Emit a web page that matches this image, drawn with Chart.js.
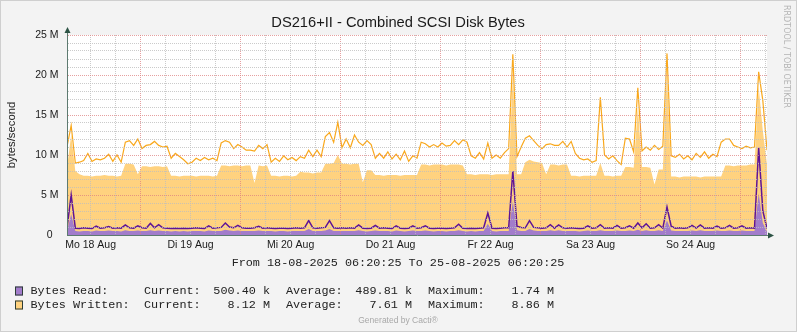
<!DOCTYPE html>
<html lang="en">
<head>
<meta charset="UTF-8" />
<title>DS216+II - Combined SCSI Disk Bytes</title>
<script src="https://cdn.jsdelivr.net/npm/chart.js"></script>
<style>
	html, body { margin: 0; padding: 0; background: #f3f3f3; }
	#chart { display: block; }
</style>
</head>
<body>
<canvas id="chart" width="797" height="332"></canvas>
<script>
// x axis is hours since 18-08-2025 06:20:25, one sample per hour
const dayLabels = ["Mo 18 Aug", "Di 19 Aug", "Mi 20 Aug", "Do 21 Aug", "Fr 22 Aug", "Sa 23 Aug", "So 24 Aug"];
const yLabels = ["0", "5 M", "10 M", "15 M", "20 M", "25 M"];

// values in M bytes/second
const writtenMax = [
	11.0, 13.7, 9.0, 9.1, 9.3, 10.2, 9.2, 9.5, 9.4, 9.6,
	10.1, 9.2, 10.0, 9.1, 11.6, 11.8, 11.2, 12.0, 10.8, 11.2,
	11.3, 11.7, 11.2, 11.0, 11.1, 9.6, 10.2, 9.8, 9.4, 8.9,
	9.1, 9.6, 9.3, 9.7, 9.4, 9.6, 9.3, 11.5, 11.8, 11.6,
	10.8, 11.3, 11.0, 10.6, 10.6, 10.5, 11.2, 10.8, 11.3, 9.1,
	9.6, 9.2, 9.9, 9.4, 9.7, 9.3, 9.8, 9.6, 10.6, 9.8,
	10.6, 9.8, 12.3, 12.8, 11.6, 14.1, 10.9, 12.0, 10.9, 12.5,
	11.6, 11.2, 11.8, 11.3, 9.6, 10.2, 9.6, 10.4, 9.5, 10.1,
	9.4, 10.5, 9.2, 9.9, 9.6, 11.6, 11.4, 11.0, 11.3, 11.0,
	11.5, 11.1, 11.2, 11.8, 11.3, 11.9, 11.6, 9.9, 9.6, 10.3,
	9.5, 11.5, 9.6, 10.0, 9.6, 10.3, 10.8, 22.6, 9.8, 11.0,
	12.1, 12.4, 11.8, 11.2, 10.8, 11.3, 11.4, 11.2, 11.2, 11.7,
	11.0, 11.7, 10.2, 9.6, 9.4, 9.5, 9.1, 9.3, 17.2, 10.0,
	9.5, 9.9, 9.3, 8.8, 12.1, 12.0, 10.4, 18.4, 10.5, 11.0,
	10.6, 11.2, 10.7, 11.1, 22.7, 9.9, 9.7, 10.1, 9.5, 9.9,
	9.4, 10.2, 9.7, 10.4, 9.6, 10.1, 9.8, 11.6, 12.0, 12.0,
	11.2, 11.0, 10.8, 11.1, 10.9, 11.0, 20.4, 16.8, 10.6
];
const writtenAvg = [
	8.4, 12.5, 8.0, 7.6, 7.4, 7.4, 7.3, 7.4, 7.4, 7.5,
	7.4, 7.4, 7.3, 7.4, 8.9, 8.9, 8.8, 7.6, 8.6, 8.6,
	8.5, 8.6, 8.6, 8.5, 8.6, 7.4, 7.4, 7.3, 7.4, 7.4,
	7.4, 7.3, 7.4, 7.4, 7.4, 7.3, 7.4, 8.7, 8.7, 8.6,
	8.7, 8.7, 8.6, 8.7, 8.7, 6.5, 8.7, 8.6, 8.7, 7.4,
	7.4, 7.3, 7.4, 7.4, 7.3, 7.4, 7.9, 7.8, 7.8, 7.7,
	7.8, 7.8, 8.9, 8.9, 9.0, 10.0, 8.9, 8.9, 8.8, 8.9,
	8.9, 6.6, 8.1, 8.1, 7.5, 7.5, 7.4, 7.5, 7.5, 7.5,
	7.4, 7.5, 7.5, 7.5, 7.5, 8.8, 8.8, 8.7, 8.8, 8.8,
	8.8, 8.7, 8.8, 8.8, 8.8, 8.7, 7.6, 7.6, 7.5, 7.6,
	7.6, 7.6, 7.5, 7.6, 7.6, 7.6, 7.6, 20.0, 7.6, 7.6,
	9.1, 9.4, 9.2, 9.1, 9.0, 7.6, 8.8, 8.8, 8.7, 8.8,
	8.8, 7.4, 7.4, 7.3, 7.4, 7.4, 7.4, 7.4, 9.0, 7.4,
	7.4, 7.3, 7.4, 7.4, 8.5, 8.5, 8.4, 16.0, 8.5, 8.5,
	8.4, 6.3, 8.2, 8.2, 20.5, 7.3, 7.3, 7.2, 7.3, 7.3,
	7.3, 7.3, 7.2, 7.3, 7.3, 7.3, 7.3, 7.3, 8.7, 8.7,
	8.6, 8.7, 8.7, 8.7, 8.8, 8.8, 18.5, 13.0, 8.8
];
const readMax = [
	0.85, 5.0, 0.85, 0.8, 0.9, 0.85, 0.8, 1.1, 0.85, 0.9,
	1.05, 0.85, 0.9, 0.85, 1.25, 0.9, 0.85, 1.15, 0.9, 0.85,
	1.45, 0.9, 1.3, 0.9, 0.85, 0.8, 0.85, 0.8, 0.85, 0.8,
	0.85, 0.9, 0.85, 0.8, 1.15, 0.85, 0.9, 0.95, 1.5, 1.0,
	0.9, 1.2, 0.9, 0.85, 0.85, 0.9, 1.1, 0.85, 0.9, 0.85,
	0.8, 0.85, 0.85, 0.8, 0.85, 0.9, 0.85, 0.9, 1.8, 0.9,
	0.85, 0.9, 0.95, 1.8, 0.9, 0.85, 0.9, 0.85, 0.9, 0.85,
	1.25, 0.85, 0.8, 0.85, 1.2, 0.85, 0.9, 0.85, 0.8, 1.15,
	0.85, 0.8, 0.85, 1.15, 0.85, 0.9, 1.15, 0.85, 0.8, 0.85,
	0.85, 0.8, 0.85, 0.9, 1.35, 0.85, 0.8, 0.85, 0.8, 0.85,
	0.9, 2.75, 0.85, 0.8, 0.85, 0.9, 0.9, 8.0, 1.1, 0.95,
	0.9, 1.8, 0.95, 0.9, 0.85, 0.9, 1.3, 0.85, 1.25, 0.9,
	0.85, 0.9, 0.85, 0.8, 0.85, 1.15, 0.85, 0.9, 1.3, 0.85,
	0.9, 0.85, 1.2, 0.85, 0.9, 1.15, 0.85, 1.5, 0.9, 1.4,
	0.85, 0.9, 1.3, 0.85, 3.5, 1.1, 0.85, 0.9, 0.85, 0.9,
	1.2, 0.85, 1.25, 0.85, 0.9, 0.85, 1.1, 0.85, 0.9, 1.2,
	0.85, 0.9, 1.15, 0.85, 0.9, 0.85, 10.9, 3.0, 0.8
];
const readAvg = [
	0.5, 2.6, 0.5, 0.45, 0.5, 0.5, 0.45, 0.55, 0.5, 0.5,
	0.55, 0.5, 0.5, 0.45, 0.6, 0.5, 0.5, 0.55, 0.5, 0.5,
	0.6, 0.5, 0.55, 0.5, 0.5, 0.45, 0.5, 0.45, 0.5, 0.45,
	0.5, 0.5, 0.5, 0.45, 0.55, 0.5, 0.5, 0.5, 0.65, 0.55,
	0.5, 0.55, 0.5, 0.5, 0.5, 0.5, 0.55, 0.5, 0.5, 0.5,
	0.45, 0.5, 0.5, 0.45, 0.5, 0.5, 0.5, 0.5, 0.75, 0.5,
	0.5, 0.5, 0.55, 0.75, 0.5, 0.5, 0.5, 0.5, 0.5, 0.5,
	0.6, 0.5, 0.45, 0.5, 0.55, 0.5, 0.5, 0.5, 0.45, 0.55,
	0.5, 0.45, 0.5, 0.55, 0.5, 0.5, 0.55, 0.5, 0.45, 0.5,
	0.5, 0.45, 0.5, 0.5, 0.6, 0.5, 0.45, 0.5, 0.45, 0.5,
	0.5, 1.4, 0.5, 0.45, 0.5, 0.5, 0.5, 4.2, 0.6, 0.5,
	0.5, 0.75, 0.55, 0.5, 0.5, 0.5, 0.6, 0.5, 0.6, 0.5,
	0.5, 0.5, 0.5, 0.45, 0.5, 0.55, 0.5, 0.5, 0.6, 0.5,
	0.5, 0.5, 0.55, 0.5, 0.5, 0.55, 0.5, 0.65, 0.5, 0.6,
	0.5, 0.5, 0.6, 0.5, 1.8, 0.55, 0.5, 0.5, 0.5, 0.5,
	0.55, 0.5, 0.6, 0.5, 0.5, 0.5, 0.55, 0.5, 0.5, 0.55,
	0.5, 0.5, 0.55, 0.5, 0.5, 0.5, 5.2, 1.5, 0.45
];

const legendRows = [
	{ name: "Bytes Read:", cur: "500.40 k", avg: "489.81 k", max: "1.74 M", color: "#a27ccb" },
	{ name: "Bytes Written:", cur: "8.12 M", avg: "7.61 M", max: "8.86 M", color: "#ffd27f" }
];

const firstNoon = 5 + 39 / 60 + 35 / 3600; // 12:00:00 on the 18th
const toPoints = (arr) => arr.map((v, i) => ({ x: i, y: v }));

const rrdFrame = {
	id: "rrdFrame",
	beforeDraw(chart) {
		const { ctx, chartArea: a, width, height } = chart;
		ctx.save();
		ctx.fillStyle = "#f3f3f3";
		ctx.fillRect(0, 0, width, height);
		ctx.strokeStyle = "#cfcfcf";
		ctx.lineWidth = 1;
		ctx.strokeRect(0.5, 0.5, width - 1, height - 1);
		ctx.fillStyle = "#ffffff";
		ctx.fillRect(a.left, a.top, a.right - a.left, a.bottom - a.top);
		ctx.restore();
	},
	afterDraw(chart) {
		const { ctx, chartArea: a } = chart;
		ctx.save();
		// axis arrows
		ctx.fillStyle = "#2e5446";
		ctx.strokeStyle = "#5d7a70";
		ctx.lineWidth = 1;
		ctx.beginPath();
		ctx.moveTo(a.left + 0.5, a.top);
		ctx.lineTo(a.left + 0.5, a.top - 3);
		ctx.moveTo(a.right, a.bottom + 0.5);
		ctx.lineTo(a.right + 2, a.bottom + 0.5);
		ctx.stroke();
		ctx.beginPath();
		ctx.moveTo(a.left + 0.5, a.top - 8);
		ctx.lineTo(a.left - 2.5, a.top - 2);
		ctx.lineTo(a.left + 3.5, a.top - 2);
		ctx.closePath();
		ctx.fill();
		ctx.beginPath();
		ctx.moveTo(a.right + 7, a.bottom + 0.5);
		ctx.lineTo(a.right + 1, a.bottom - 2.5);
		ctx.lineTo(a.right + 1, a.bottom + 3.5);
		ctx.closePath();
		ctx.fill();

		// title
		ctx.fillStyle = "#1a1a1a";
		ctx.font = '14.7px "Liberation Sans", Arial, sans-serif';
		ctx.textAlign = "center";
		ctx.textBaseline = "alphabetic";
		ctx.fillText("DS216+II - Combined SCSI Disk Bytes", 398, 27);

		// y axis title
		ctx.save();
		ctx.translate(15, 135);
		ctx.rotate(-Math.PI / 2);
		ctx.font = '11.3px "Liberation Sans", Arial, sans-serif';
		ctx.fillStyle = "#1a1a1a";
		ctx.fillText("bytes/second", 0, 0);
		ctx.restore();

		// watermark on the right
		ctx.save();
		ctx.translate(786, 5);
		ctx.rotate(Math.PI / 2);
		ctx.font = '8px "DejaVu Sans", sans-serif';
		ctx.fillStyle = "#b4b4b4";
		ctx.textAlign = "left";
		ctx.textBaseline = "middle";
		ctx.fillText("RRDTOOL / TOBI OETIKER", 0, 0);
		ctx.restore();

		// period and legend
		const mono = '11.8px "Liberation Mono", "DejaVu Sans Mono", monospace';
		ctx.font = mono;
		ctx.fillStyle = "#222";
		ctx.textBaseline = "middle";
		ctx.textAlign = "center";
		ctx.fillText("From 18-08-2025 06:20:25 To 25-08-2025 06:20:25", 398, 263);

		legendRows.forEach((row, i) => {
			const y = 291 + i * 14;
			ctx.fillStyle = row.color;
			ctx.fillRect(15, y - 4.5, 8, 9);
			ctx.strokeStyle = "#2d3d36";
			ctx.strokeRect(15.5, y - 4, 7, 8);
			ctx.fillStyle = "#222";
			ctx.textAlign = "left";
			ctx.fillText(row.name, 30.5, y);
			ctx.fillText("Current:", 144, y);
			ctx.fillText("Average:", 286, y);
			ctx.fillText("Maximum:", 428, y);
			ctx.textAlign = "right";
			ctx.fillText(row.cur, 270, y);
			ctx.fillText(row.avg, 412, y);
			ctx.fillText(row.max, 554, y);
		});

		ctx.font = '8.5px "Liberation Sans", Arial, sans-serif';
		ctx.fillStyle = "#a8a8a8";
		ctx.textAlign = "center";
		ctx.fillText("Generated by Cacti\u00ae", 398, 321);
		ctx.restore();
	}
};

const redGrid = "rgba(222, 128, 128, 0.75)";
const greyGrid = "rgba(190, 190, 190, 0.8)";

new Chart(document.getElementById("chart"), {
	type: "line",
	data: {
		datasets: [
			{
				label: "Bytes Read Maximum",
				data: toPoints(readMax),
				borderColor: "#5e1497",
				borderWidth: 1.5,
				pointRadius: 0,
				fill: false,
				order: 0
			},
			{
				label: "Bytes Written Maximum",
				data: toPoints(writtenMax),
				borderColor: "#f9a81c",
				borderWidth: 1.2,
				pointRadius: 0,
				fill: false,
				order: 1
			},
			{
				label: "Bytes Read",
				data: toPoints(readAvg),
				borderColor: "rgba(0,0,0,0)",
				borderWidth: 0,
				backgroundColor: "#a27ccb",
				pointRadius: 0,
				fill: "origin",
				order: 2
			},
			{
				label: "Bytes Written",
				data: toPoints(writtenAvg),
				borderColor: "rgba(0,0,0,0)",
				borderWidth: 0,
				backgroundColor: "#ffd27f",
				pointRadius: 0,
				fill: "origin",
				order: 3
			}
		]
	},
	options: {
		responsive: false,
		animation: false,
		events: [],
		layout: { padding: { top: 35, right: 30, left: 0, bottom: 0 } },
		plugins: {
			legend: { display: false },
			title: { display: false },
			tooltip: { enabled: false }
		},
		elements: { line: { tension: 0 } },
		scales: {
			x: {
				type: "linear",
				min: 0,
				max: 168,
				afterFit: (scale) => { scale.height = 97; },
				afterBuildTicks: (scale) => {
					const ticks = [];
					for (let k = 0; firstNoon + 6 * k <= 168; k++) {
						ticks.push({ value: firstNoon + 6 * k });
					}
					scale.ticks = ticks;
				},
				ticks: {
					autoSkip: false,
					maxRotation: 0,
					padding: 4,
					color: "#1a1a1a",
					font: { family: '"Liberation Sans", Arial, sans-serif', size: 10.5 },
					callback: (value, index) => (index % 4 === 0 ? dayLabels[index / 4] : "")
				},
				grid: {
					z: 1,
					drawTicks: false,
					color: (ctx) => (ctx.index % 4 === 2 ? redGrid : greyGrid)
				},
				border: { z: 2, color: "#5d7a70", width: 1, dash: [1, 1] }
			},
			y: {
				min: 0,
				max: 25,
				afterFit: (scale) => { scale.width = 67; },
				afterBuildTicks: (scale) => {
					const ticks = [];
					for (let v = 0; v <= 25; v++) ticks.push({ value: v });
					scale.ticks = ticks;
				},
				ticks: {
					autoSkip: false,
					padding: 8.5,
					color: "#1a1a1a",
					font: { family: '"Liberation Sans", Arial, sans-serif', size: 10.5 },
					callback: (value) => (value % 5 === 0 ? (value === 0 ? yLabels[0] + "  " : yLabels[value / 5]) : "")
				},
				grid: {
					z: 1,
					drawTicks: false,
					color: (ctx) => (ctx.tick.value === 0 ? "rgba(0,0,0,0)" : ctx.tick.value % 5 === 0 ? redGrid : greyGrid)
				},
				border: { z: 2, color: "#5d7a70", width: 1, dash: [1, 1] }
			}
		}
	},
	plugins: [rrdFrame]
});
</script>
</body>
</html>
